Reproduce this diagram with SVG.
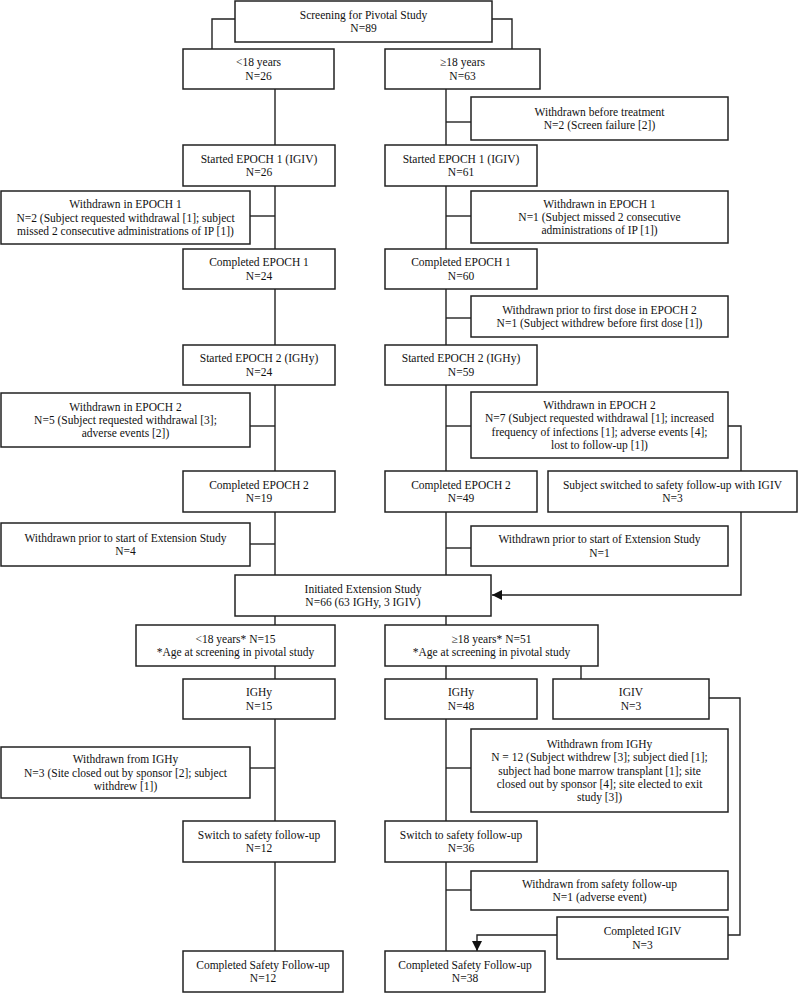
<svg xmlns="http://www.w3.org/2000/svg" width="798" height="993" viewBox="0 0 798 993">
<style>
rect{fill:#fff;stroke:#222;stroke-width:1.5}
text{font-family:"Liberation Serif","Times New Roman",serif;font-size:11.5px;fill:#111;text-anchor:middle}
.c{fill:none;stroke:#222;stroke-width:1.4}
</style>
<defs>
<marker id="ah" markerUnits="userSpaceOnUse" markerWidth="10" markerHeight="10" refX="10" refY="5" orient="auto">
<path d="M0,0 L10,5 L0,10 Z" fill="#111"/>
</marker>
</defs>
<rect x="0" y="0" width="798" height="993" style="stroke:none"/>
<g id="connectors">
<path class="c" d="M235,19 H212 V49"/>
<path class="c" d="M492,19 H512 V49"/>
<path class="c" d="M275,89 V951"/>
<path class="c" d="M446,89 V951"/>
<path class="c" d="M250,216 H275"/>
<path class="c" d="M250,426 H275"/>
<path class="c" d="M250,544 H275"/>
<path class="c" d="M250,768 H275"/>
<path class="c" d="M446,122 H471"/>
<path class="c" d="M446,216 H471"/>
<path class="c" d="M446,318 H471"/>
<path class="c" d="M446,426 H471"/>
<path class="c" d="M446,548 H471"/>
<path class="c" d="M446,768 H471"/>
<path class="c" d="M446,890 H471"/>
<path class="c" d="M728,426 H741 V471"/>
<path class="c" d="M741,512 V595 H492" marker-end="url(#ah)"/>
<path class="c" d="M581,666 V679"/>
<path class="c" d="M709,698 H740 V935 H728"/>
<path class="c" d="M557,935 H477 V951" marker-end="url(#ah)"/>
</g>
<g id="screen"><rect x="235" y="1" width="257" height="41"/><text x="363.5" y="18.9">Screening for Pivotal Study</text><text x="363.5" y="32.2">N=89</text></g>
<g id="lt18"><rect x="183" y="49" width="151" height="40"/><text x="258.5" y="66.4">&lt;18 years</text><text x="258.5" y="79.7">N=26</text></g>
<g id="ge18"><rect x="385" y="49" width="155" height="40"/><text x="462.5" y="66.4">≥18 years</text><text x="462.5" y="79.7">N=63</text></g>
<g id="wbt"><rect x="471" y="97" width="257" height="43"/><text x="599.5" y="115.9">Withdrawn before treatment</text><text x="599.5" y="129.2">N=2 (Screen failure [2])</text></g>
<g id="se1L"><rect x="183" y="145" width="152" height="41"/><text x="259" y="162.9">Started EPOCH 1 (IGIV)</text><text x="259" y="176.2">N=26</text></g>
<g id="se1R"><rect x="385" y="145" width="152" height="41"/><text x="461" y="162.9">Started EPOCH 1 (IGIV)</text><text x="461" y="176.2">N=61</text></g>
<g id="we1L"><rect x="1" y="191" width="249" height="53"/><text x="125.5" y="208.2">Withdrawn in EPOCH 1</text><text x="125.5" y="221.5">N=2 (Subject requested withdrawal [1]; subject</text><text x="125.5" y="234.8">missed 2 consecutive administrations of IP [1])</text></g>
<g id="we1R"><rect x="471" y="191" width="257" height="52"/><text x="599.5" y="207.7">Withdrawn in EPOCH 1</text><text x="599.5" y="221">N=1 (Subject missed 2 consecutive</text><text x="599.5" y="234.3">administrations of IP [1])</text></g>
<g id="ce1L"><rect x="183" y="249" width="152" height="40"/><text x="259" y="266.4">Completed EPOCH 1</text><text x="259" y="279.7">N=24</text></g>
<g id="ce1R"><rect x="385" y="249" width="152" height="40"/><text x="461" y="266.4">Completed EPOCH 1</text><text x="461" y="279.7">N=60</text></g>
<g id="wfd"><rect x="471" y="296" width="257" height="41"/><text x="599.5" y="313.9">Withdrawn prior to first dose in EPOCH 2</text><text x="599.5" y="327.2">N=1 (Subject withdrew before first dose [1])</text></g>
<g id="se2L"><rect x="183" y="345" width="152" height="40"/><text x="259" y="362.4">Started EPOCH 2 (IGHy)</text><text x="259" y="375.7">N=24</text></g>
<g id="se2R"><rect x="385" y="345" width="152" height="40"/><text x="461" y="362.4">Started EPOCH 2 (IGHy)</text><text x="461" y="375.7">N=59</text></g>
<g id="we2L"><rect x="1" y="393" width="249" height="54"/><text x="125.5" y="410.7">Withdrawn in EPOCH 2</text><text x="125.5" y="424">N=5 (Subject requested withdrawal [3];</text><text x="125.5" y="437.3">adverse events [2])</text></g>
<g id="we2R"><rect x="471" y="392" width="257" height="66"/><text x="599.5" y="409">Withdrawn in EPOCH 2</text><text x="599.5" y="422.3">N=7 (Subject requested withdrawal [1]; increased</text><text x="599.5" y="435.6">frequency of infections [1]; adverse events [4];</text><text x="599.5" y="448.9">lost to follow-up [1])</text></g>
<g id="ce2L"><rect x="183" y="471" width="152" height="41"/><text x="259" y="488.9">Completed EPOCH 2</text><text x="259" y="502.2">N=19</text></g>
<g id="ce2R"><rect x="385" y="471" width="152" height="41"/><text x="461" y="488.9">Completed EPOCH 2</text><text x="461" y="502.2">N=49</text></g>
<g id="ssw"><rect x="548" y="471" width="249" height="41"/><text x="672.5" y="488.9">Subject switched to safety follow-up with IGIV</text><text x="672.5" y="502.2">N=3</text></g>
<g id="wpsL"><rect x="1" y="523" width="249" height="43"/><text x="125.5" y="541.9">Withdrawn prior to start of Extension Study</text><text x="125.5" y="555.2">N=4</text></g>
<g id="wpsR"><rect x="471" y="526" width="257" height="40"/><text x="599.5" y="543.4">Withdrawn prior to start of Extension Study</text><text x="599.5" y="556.7">N=1</text></g>
<g id="init"><rect x="235" y="575" width="256" height="41"/><text x="363" y="592.9">Initiated Extension Study</text><text x="363" y="606.2">N=66 (63 IGHy, 3 IGIV)</text></g>
<g id="lt18s"><rect x="136" y="625" width="199" height="41"/><text x="235.5" y="642.9">&lt;18 years* N=15</text><text x="235.5" y="656.2">*Age at screening in pivotal study</text></g>
<g id="ge18s"><rect x="385" y="625" width="213" height="41"/><text x="491.5" y="642.9">≥18 years* N=51</text><text x="491.5" y="656.2">*Age at screening in pivotal study</text></g>
<g id="ighyL"><rect x="183" y="679" width="152" height="40"/><text x="259" y="696.4">IGHy</text><text x="259" y="709.7">N=15</text></g>
<g id="ighyR"><rect x="385" y="679" width="152" height="40"/><text x="461" y="696.4">IGHy</text><text x="461" y="709.7">N=48</text></g>
<g id="igiv"><rect x="553" y="679" width="156" height="40"/><text x="631" y="696.4">IGIV</text><text x="631" y="709.7">N=3</text></g>
<g id="wfiL"><rect x="1" y="747" width="249" height="51"/><text x="125.5" y="763.2">Withdrawn from IGHy</text><text x="125.5" y="776.5">N=3 (Site closed out by sponsor [2]; subject</text><text x="125.5" y="789.8">withdrew [1])</text></g>
<g id="wfiR"><rect x="471" y="729" width="257" height="83"/><text x="599.5" y="747.9">Withdrawn from IGHy</text><text x="599.5" y="761.2">N = 12 (Subject withdrew [3]; subject died [1];</text><text x="599.5" y="774.5">subject had bone marrow transplant [1]; site</text><text x="599.5" y="787.8">closed out by sponsor [4]; site elected to exit</text><text x="599.5" y="801.1">study [3])</text></g>
<g id="ssfL"><rect x="183" y="821" width="152" height="41"/><text x="259" y="838.9">Switch to safety follow-up</text><text x="259" y="852.2">N=12</text></g>
<g id="ssfR"><rect x="385" y="821" width="152" height="41"/><text x="461" y="838.9">Switch to safety follow-up</text><text x="461" y="852.2">N=36</text></g>
<g id="wsf"><rect x="471" y="871" width="257" height="39"/><text x="599.5" y="887.9">Withdrawn from safety follow-up</text><text x="599.5" y="901.2">N=1 (adverse event)</text></g>
<g id="cigiv"><rect x="557" y="917" width="171" height="42"/><text x="642.5" y="935.4">Completed IGIV</text><text x="642.5" y="948.7">N=3</text></g>
<g id="csfL"><rect x="183" y="951" width="160" height="41"/><text x="263" y="968.9">Completed Safety Follow-up</text><text x="263" y="982.2">N=12</text></g>
<g id="csfR"><rect x="385" y="951" width="160" height="41"/><text x="465" y="968.9">Completed Safety Follow-up</text><text x="465" y="982.2">N=38</text></g>
</svg>
